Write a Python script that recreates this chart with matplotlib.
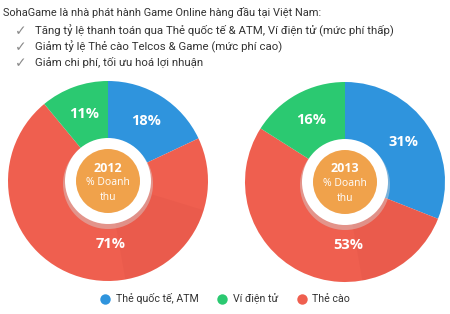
import matplotlib
matplotlib.use("Agg")
import matplotlib.pyplot as plt
from matplotlib.patches import Circle, Wedge
from matplotlib.lines import Line2D

categories = ["Thẻ quốc tế, ATM", "Ví điện tử", "Thẻ cào"]
years = ["2012", "2013"]
values_2012 = [18, 11, 71]
values_2013 = [31, 16, 53]
center_caption = "% Doanh\nthu"
title = "SohaGame là nhà phát hành Game Online hàng đầu tại Việt Nam:"
bullets = [
    "Tăng tỷ lệ thanh toán qua Thẻ quốc tế & ATM, Ví điện tử (mức phí thấp)",
    "Giảm tỷ lệ Thẻ cào Telcos & Game (mức phí cao)",
    "Giảm chi phí, tối ưu hoá lợi nhuận",
]

colors = {"Thẻ quốc tế, ATM": "#2F94DD", "Ví điện tử": "#2BC971", "Thẻ cào": "#EF5F4F"}
W, H = 450, 314

fig = plt.figure(figsize=(W / 100, H / 100), dpi=100)
ax = fig.add_axes([0, 0, 1, 1])

# draw order clockwise from top: blue, red, green
order = [0, 2, 1]
centers = [(108, H - 181), (345, H - 182)]
R = 100
for vals, yr, c in zip([values_2012, values_2013], years, centers):
    v = [vals[i] for i in order]
    cols = [colors[categories[i]] for i in order]
    wedges, texts, autotexts = ax.pie(
        v, colors=cols, startangle=90, counterclock=False, center=c, radius=R,
        autopct=lambda p: f"{p:.0f}%", pctdistance=0.71,
        wedgeprops=dict(width=R - 42, linewidth=0),
        textprops=dict(color="white", fontsize=10.5, fontweight="bold", family="Open Sans"),
        frame=True,
    )
    # red label sits near the bottom
    autotexts[1].set_position((c[0] + 3, c[1] - 0.63 * R))
    # subtle shading on lower right of the red ring segment
    red_start = wedges[1].theta2
    ax.add_patch(Wedge(c, R, -80, min(-17, red_start), width=R - 42,
                       facecolor="#B83A30", alpha=0.09, linewidth=0))
    # white ring with soft shadow
    ax.add_patch(Circle((c[0], c[1] - 3), 45, facecolor="#D5D5D5", alpha=0.45, linewidth=0))
    ax.add_patch(Circle(c, 43, facecolor="white", linewidth=0))
    ax.add_patch(Circle(c, 32, facecolor="#F0A24B", linewidth=0))
    ax.text(c[0], c[1] + 13, yr, ha="center", va="center", color="white",
            fontsize=9, fontweight="bold", family="Open Sans")
    ax.text(c[0], c[1] - 9, center_caption, ha="center", va="center", color="white",
            fontsize=7.5, family="Open Sans", linespacing=1.55)

ax.set_xlim(0, W)
ax.set_ylim(0, H)
ax.set_aspect("equal")
ax.axis("off")

ax.text(3, H - 12, title, fontsize=7.9, family="Roboto", color="#333333", va="center")
for i, b in enumerate(bullets):
    y = H - 31 - 16 * i
    ax.text(15, y, "✓", fontsize=10, family="DejaVu Sans", color="#8A8A8A", va="center")
    ax.text(35, y, b, fontsize=8.2, family="Roboto", color="#333333", va="center")

handles = [Line2D([], [], marker="o", linestyle="", markersize=7.5,
                  markerfacecolor=colors[k], markeredgewidth=0) for k in categories]
fig.legend(handles, categories, loc="center", bbox_to_anchor=(0.5, (H - 299) / H),
           ncol=3, frameon=False, handlelength=1.0, handletextpad=0.45, columnspacing=1.75,
           prop=dict(family="Roboto", size=7.7), labelcolor="#333333")

fig.savefig("out.png", dpi=100)
